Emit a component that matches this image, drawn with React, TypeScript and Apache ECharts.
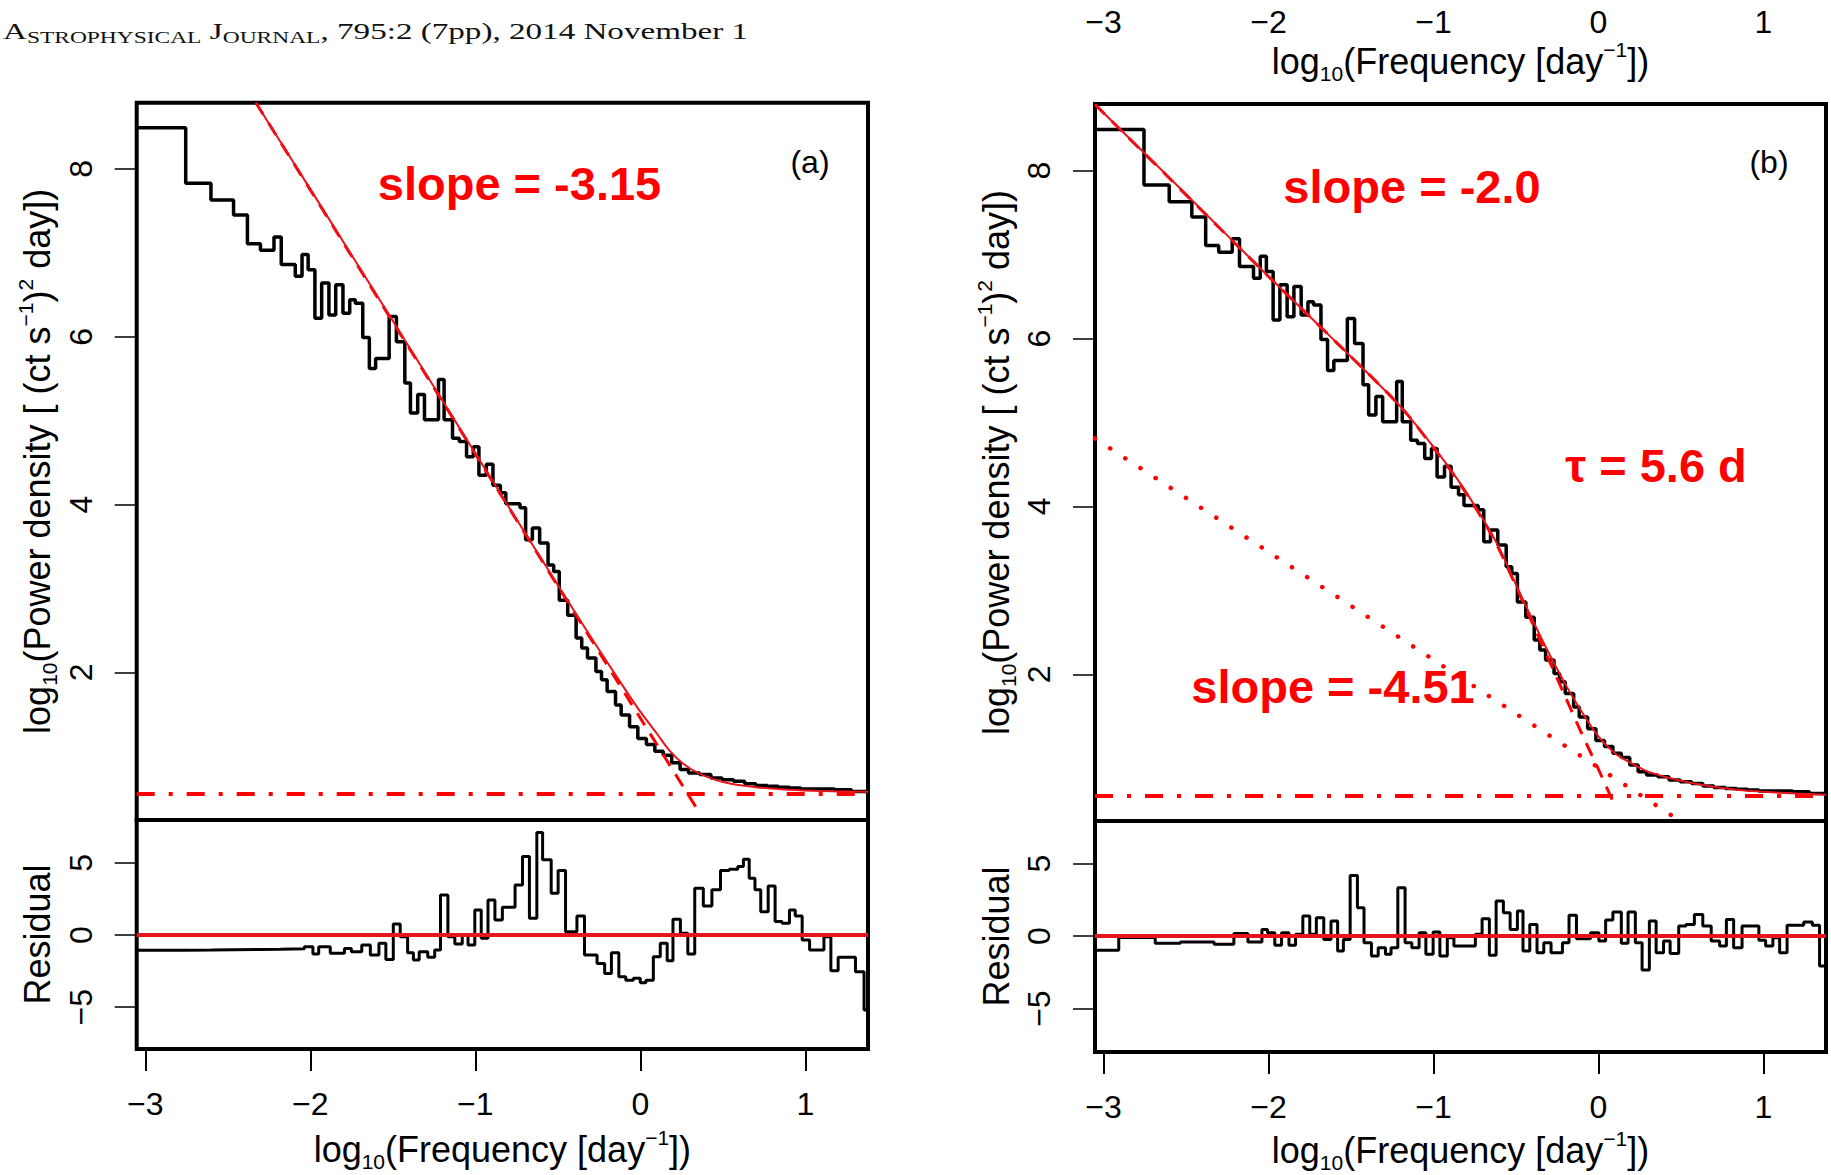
import React, { useEffect, useRef } from "react";
import * as echarts from "echarts";

// ---------- axis ranges & ticks ----------
const xRange = [-3.052, 1.38];
const xTickValues = [-3, -2, -1, 0, 1];
const powerTickValues = [2, 4, 6, 8];
const residTickValues = [-5, 0, 5];
const powerRangeA = [0.239, 8.79];
const powerRangeB = [0.252, 8.795];
const residRangeA = [-7.9, 7.97];
const residRangeB = [-7.99, 7.93];

// ---------- binned periodogram (same in both panels) ----------
const powerBinEdges = [
  -3.052, -2.755, -2.602, -2.465, -2.381, -2.302, -2.22, -2.176, -2.091, -2.05,
  -2.013, -1.972, -1.931, -1.887, -1.846, -1.802, -1.761, -1.727, -1.682, -1.642,
  -1.604, -1.522, -1.478, -1.427, -1.393, -1.349, -1.308, -1.223, -1.189, -1.138,
  -1.097, -1.053, -1.012, -0.978, -0.933, -0.893, -0.848, -0.815, -0.729, -0.695,
  -0.654, -0.61, -0.559, -0.525, -0.491, -0.44, -0.389, -0.355, -0.32, -0.269,
  -0.235, -0.201, -0.15, -0.116, -0.065, -0.015, 0.037, 0.088, 0.139, 0.19,
  0.241, 0.292, 0.36, 0.428, 0.496, 0.565, 0.633, 0.7, 0.77, 0.837,
  0.905, 0.973, 1.075, 1.178, 1.28,
];
const logPowerValues = [
  8.49, 7.83, 7.63, 7.45, 7.11, 7.03, 7.19, 6.86, 6.72, 6.98,
  6.8, 6.22, 6.64, 6.26, 6.62, 6.28, 6.44, 6.4, 5.99, 5.62,
  5.74, 6.24, 5.94, 5.45, 5.09, 5.31, 5.01, 5.49, 5.01, 4.79,
  4.75, 4.57, 4.69, 4.35, 4.48, 4.23, 4.14, 4.01, 3.96, 3.58,
  3.72, 3.54, 3.28, 3.2, 2.86, 2.68, 2.41, 2.29, 2.17, 2.01,
  1.91, 1.77, 1.61, 1.49, 1.35, 1.21, 1.14, 1.06, 1.01, 0.92,
  0.84, 0.8, 0.78, 0.74, 0.72, 0.7, 0.67, 0.65, 0.64, 0.63,
  0.62, 0.61, 0.61, 0.6, 0.58,
];

// ---------- residuals (bin left edge, value) ----------
const residualA = [
  [-3.052, -1.05], [-2.77, -1.04], [-2.6, -1.02], [-2.465, -1.0], [-2.3, -0.98], [-2.18, -0.95],
  [-2.036, -0.81], [-1.984, -1.32], [-1.949, -0.81], [-1.879, -1.27], [-1.793, -0.93], [-1.751, -1.16],
  [-1.688, -0.69], [-1.636, -1.39], [-1.584, -0.58], [-1.542, -1.69], [-1.497, 0.76], [-1.455, -0.12],
  [-1.41, -1.23], [-1.375, -1.74], [-1.34, -1.16], [-1.288, -1.55], [-1.246, -1.04], [-1.211, 2.78],
  [-1.166, -0.12], [-1.124, -0.62], [-1.079, 0.0], [-1.044, -0.69], [-1.003, 1.74], [-0.964, -0.23],
  [-0.923, 2.43], [-0.881, 1.04], [-0.836, 1.92], [-0.759, 3.47], [-0.714, 5.44], [-0.672, 1.16],
  [-0.627, 7.11], [-0.592, 5.21], [-0.54, 2.89], [-0.498, 4.47], [-0.453, 0.23], [-0.384, 1.32],
  [-0.338, -1.39], [-0.262, -1.97], [-0.216, -2.66], [-0.175, -1.23], [-0.13, -2.89], [-0.088, -3.13],
  [-0.042, -3.0], [0.0, -3.31], [0.034, -3.13], [0.079, -1.5], [0.121, -0.58], [0.163, -1.79],
  [0.198, 1.1], [0.243, 0.12], [0.288, -1.32], [0.33, 3.24], [0.382, 2.01], [0.434, 3.13],
  [0.486, 4.47], [0.539, 4.56], [0.591, 4.75], [0.625, 5.25], [0.66, 3.94], [0.695, 3.13],
  [0.73, 1.62], [0.775, 3.4], [0.817, 0.93], [0.859, 0.81], [0.904, 1.74], [0.939, 1.32],
  [0.981, -0.35], [1.026, -1.04], [1.113, -0.12], [1.155, -2.48], [1.199, -1.55], [1.304, -2.55],
  [1.356, -5.2],
];
const residualB = [
  [-3.052, -0.97], [-2.908, -0.1], [-2.687, -0.5], [-2.534, -0.41], [-2.33, -0.57], [-2.21, 0.18],
  [-2.125, -0.41], [-2.04, 0.46], [-2.006, 0.23], [-1.962, -0.64], [-1.921, 0.23], [-1.876, -0.64],
  [-1.836, 0.12], [-1.792, 1.38], [-1.75, 0.12], [-1.71, 1.26], [-1.665, -0.23], [-1.621, 1.03],
  [-1.581, -1.03], [-1.546, -0.23], [-1.505, 4.18], [-1.461, 1.95], [-1.421, -0.46], [-1.376, -1.38],
  [-1.335, -0.8], [-1.291, -1.26], [-1.257, -0.8], [-1.216, 3.33], [-1.172, -0.46], [-1.131, -0.8],
  [-1.087, 0.23], [-1.046, -1.26], [-1.002, 0.28], [-0.961, -1.38], [-0.916, -0.11], [-0.876, -0.69],
  [-0.746, 0.12], [-0.705, 1.2], [-0.661, -1.33], [-0.62, 2.41], [-0.576, 1.61], [-0.535, 0.46],
  [-0.491, 1.72], [-0.457, -1.03], [-0.416, 0.8], [-0.372, -1.15], [-0.331, -0.46], [-0.287, -1.15],
  [-0.218, -0.46], [-0.178, 1.43], [-0.133, -0.18], [-0.048, 0.23], [0.003, -0.34], [0.044, 1.1],
  [0.088, 1.66], [0.139, -0.5], [0.18, 1.66], [0.224, -0.46], [0.265, -2.34], [0.309, 1.03],
  [0.35, -1.15], [0.395, -0.34], [0.435, -1.2], [0.487, 0.69], [0.531, 0.8], [0.582, 1.49],
  [0.633, 0.69], [0.684, -0.34], [0.735, -0.69], [0.776, 1.15], [0.82, -0.8], [0.871, 0.69],
  [0.973, -0.28], [1.014, -0.69], [1.058, -0.11], [1.099, -1.15], [1.144, 0.74], [1.245, 0.97],
  [1.297, 0.74], [1.341, -2.07],
];

// ---------- model curves ----------
const modelA = [
  [-2.33, 8.79], [-2.0, 7.76], [-1.5, 6.19], [-1.0, 4.61], [-0.5, 3.04], [-0.3, 2.42],
  [-0.1, 1.82], [0.0, 1.53], [0.1, 1.27], [0.18, 1.06], [0.26, 0.91], [0.35, 0.8],
  [0.45, 0.72], [0.55, 0.67], [0.7, 0.63], [0.9, 0.6], [1.1, 0.585], [1.38, 0.575],
];
const powerLawA = [[-2.33, 8.79], [0.362, 0.315]];
const noiseA = [[-3.052, 0.55], [1.38, 0.55]];

const modelB = [
  [-3.052, 8.79], [-2.5, 7.72], [-2.0, 6.74], [-1.55, 5.88], [-1.2, 5.19], [-1.0, 4.71],
  [-0.85, 4.31], [-0.7, 3.85], [-0.6, 3.5], [-0.5, 3.07], [-0.4, 2.65], [-0.3, 2.25],
  [-0.2, 1.88], [-0.1, 1.55], [0.0, 1.26], [0.1, 1.06], [0.2, 0.94], [0.3, 0.84],
  [0.42, 0.77], [0.55, 0.71], [0.7, 0.66], [0.85, 0.62], [1.0, 0.6], [1.2, 0.58], [1.38, 0.565],
];
const bendingPowerLawB = [
  [-3.052, 8.79], [-2.0, 6.74], [-1.55, 5.88], [-1.2, 5.19], [-1.0, 4.7], [-0.85, 4.3],
  [-0.7, 3.84], [-0.6, 3.48], [-0.5, 3.05], [-0.4, 2.61], [-0.3, 2.17], [-0.2, 1.73],
  [-0.1, 1.29], [0.0, 0.87], [0.089, 0.48],
];
const secondPowerLawB = [[-3.052, 4.81], [0.45, 0.31]];
const noiseB = [[-3.052, 0.55], [1.38, 0.55]];
const zeroLine = [[-3.052, 0], [1.38, 0]];

// ---------- styling ----------
const SANS = "Liberation Sans";
const RED = "#ff0000";
const RED_LINE = "#e8141b";
const labelSize = 32;

const titleRich = {
  n: { fontSize: 36, lineHeight: 36, fontFamily: SANS, color: "#000" },
  s: { fontSize: 21, lineHeight: 12, height: 12, verticalAlign: "bottom", fontFamily: SANS, color: "#000" },
  p: { fontSize: 21, lineHeight: 12, height: 12, verticalAlign: "top", fontFamily: SANS, color: "#000" },
};
const freqTitle = "{n|log}{s|10}{n|(Frequency [day}{p|\u22121}{n|])}";
const powerTitle = "{n|log}{s|10}{n|(Power density [ (ct s}{p|\u22121}{n|)}{p|2}{n| day])}";
const residTitle = "{n|Residual}";

const fmt = (v: number) => (v < 0 ? "\u2212" + Math.abs(v) : String(v));

function stepData(edges: number[], values: number[], end: number) {
  const d = edges.map((x, i) => [x, values[i]]);
  d.push([end, values[values.length - 1]]);
  return d;
}
function stepPairs(pairs: number[][], end: number) {
  return [...pairs, [end, pairs[pairs.length - 1][1]]];
}

const hiddenX = (gridIndex: number) => ({
  type: "value", gridIndex, min: xRange[0], max: xRange[1],
  axisLine: { show: false, onZero: false }, axisTick: { show: false }, axisLabel: { show: false }, splitLine: { show: false },
});
const bottomX = (gridIndex: number, nameGap: number) => ({
  type: "value", gridIndex, min: xRange[0], max: xRange[1], position: "bottom",
  axisLine: { show: false, onZero: false },
  axisTick: { show: true, customValues: xTickValues, length: 22, lineStyle: { color: "#000", width: 2 } },
  axisLabel: {
    customValues: xTickValues, margin: 43, fontSize: labelSize, lineHeight: 24,
    fontFamily: SANS, color: "#000", formatter: fmt,
  },
  splitLine: { show: false },
  name: freqTitle, nameLocation: "middle", nameGap, nameMoveOverlap: false, nameTextStyle: { rich: titleRich },
});
const leftY = (gridIndex: number, range: number[], ticks: number[], title: string) => ({
  type: "value", gridIndex, min: range[0], max: range[1], position: "left",
  axisLine: { show: false, onZero: false },
  axisTick: { show: true, customValues: ticks, length: 22, lineStyle: { color: "#000", width: 1.5 } },
  axisLabel: { customValues: ticks, rotate: 90, margin: 40, fontSize: labelSize, fontFamily: SANS, color: "#000", formatter: fmt },
  splitLine: { show: false },
  name: title, nameLocation: "middle", nameRotate: 90, nameGap: 81, nameMoveOverlap: false, nameTextStyle: { rich: titleRich },
});

const gridStyle = {
  show: true, borderColor: "#000", borderWidth: 4, backgroundColor: "transparent",
  containLabel: false, outerBoundsMode: "none",
};

const line = (xi: number, yi: number, data: number[][], style: any, extra: any = {}) => ({
  type: "line", xAxisIndex: xi, yAxisIndex: yi, data, showSymbol: false, symbol: "none",
  silent: true, animation: false, lineStyle: style, ...extra,
});

const annot = (text: string, x: number, y: number, size: number, color: string, bold: boolean) => ({
  type: "text", x, y, silent: true,
  style: {
    text, fill: color, fontSize: size, fontWeight: bold ? "bold" : "normal", fontFamily: SANS,
    align: "center", verticalAlign: "middle",
  },
});

export default function App() {
  const ref = useRef<HTMLDivElement>(null);
  useEffect(() => {
    if (!ref.current) return;
    const chart = echarts.init(ref.current, null, { renderer: "svg" });
    const option: any = {
      animation: false,
      backgroundColor: "#fff",
      grid: [
        { left: 136.7, top: 102.7, width: 731.3, height: 717.3, ...gridStyle },
        { left: 136.7, top: 820, width: 731.3, height: 229, ...gridStyle },
        { left: 1095, top: 104, width: 731, height: 717, ...gridStyle },
        { left: 1095, top: 821, width: 731, height: 231, ...gridStyle },
      ],
      xAxis: [
        hiddenX(0),
        bottomX(1, 82),
        hiddenX(2),
        bottomX(3, 80),
        {
          type: "value", gridIndex: 2, position: "top", min: xRange[0], max: xRange[1],
          axisLine: { show: false, onZero: false }, axisTick: { show: false }, splitLine: { show: false },
          axisLabel: {
            customValues: xTickValues, margin: 71, fontSize: labelSize, lineHeight: 22,
            fontFamily: SANS, color: "#000", formatter: fmt,
          },
          name: freqTitle, nameLocation: "middle", nameGap: 25, nameMoveOverlap: false, nameTextStyle: { rich: titleRich },
        },
      ],
      yAxis: [
        leftY(0, powerRangeA, powerTickValues, powerTitle),
        leftY(1, residRangeA, residTickValues, residTitle),
        leftY(2, powerRangeB, powerTickValues, powerTitle),
        leftY(3, residRangeB, residTickValues, residTitle),
      ],
      series: [
        // panel (a)
        line(0, 0, stepData(powerBinEdges, logPowerValues, xRange[1]), { color: "#000", width: 3.5 }, { step: "end" }),
        line(0, 0, noiseA, { color: RED, width: 4, type: [18, 14, 4, 14] }),
        line(0, 0, powerLawA, { color: RED, width: 3, type: [14, 10] }),
        line(0, 0, modelA, { color: RED_LINE, width: 2 }, { smooth: 0.3 }),
        line(1, 1, stepPairs(residualA, xRange[1]), { color: "#000", width: 3 }, { step: "end" }),
        line(1, 1, zeroLine, { color: RED_LINE, width: 4 }),
        // panel (b)
        line(2, 2, stepData(powerBinEdges, logPowerValues, xRange[1]), { color: "#000", width: 3.5 }, { step: "end" }),
        line(2, 2, noiseB, { color: RED, width: 4, type: [18, 14, 4, 14] }),
        line(2, 2, secondPowerLawB, { color: RED, width: 4.5, type: [0.1, 18], cap: "round" }),
        line(2, 2, bendingPowerLawB, { color: RED, width: 3, type: [14, 10] }, { smooth: 0.3 }),
        line(2, 2, modelB, { color: RED_LINE, width: 2 }, { smooth: 0.3 }),
        line(3, 3, stepPairs(residualB, xRange[1]), { color: "#000", width: 3 }, { step: "end" }),
        line(3, 3, zeroLine, { color: RED_LINE, width: 4 }),
      ],
      graphic: [
        {
          type: "text", x: 3, y: 31, scaleX: 1.38, silent: true,
          style: {
            text: "{b|A}{s|STROPHYSICAL}{b| J}{s|OURNAL}{b|, 795:2 (7pp), 2014 November 1}",
            align: "left", verticalAlign: "middle",
            rich: {
              b: { fontSize: 24, lineHeight: 30, fontFamily: "Liberation Serif", fill: "#111" },
              s: { fontSize: 17, lineHeight: 27, verticalAlign: "bottom", fontFamily: "Liberation Serif", fill: "#111" },
            },
          },
        },
        annot("slope = -3.15", 519.5, 183, 47, RED, true),
        annot("(a)", 810, 162, 32, "#000", false),
        annot("slope = -2.0", 1412, 186.5, 47, RED, true),
        annot("(b)", 1769, 162, 32, "#000", false),
        annot("\u03c4 = 5.6 d", 1656, 465, 47, RED, true),
        annot("slope = -4.51", 1333, 686.5, 47, RED, true),
      ],
    };
    chart.setOption(option);
    return () => chart.dispose();
  }, []);
  return (
    <div
      ref={ref}
      style={{ position: "absolute", left: 0, top: 0, width: 1831, height: 1175, background: "#fff" }}
    />
  );
}
